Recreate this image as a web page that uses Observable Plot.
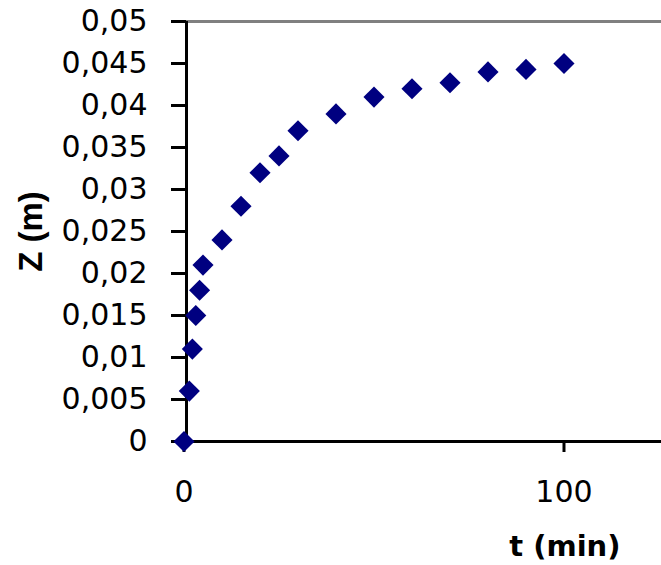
<!DOCTYPE html>
<html>
<head>
<meta charset="utf-8">
<script src="https://cdn.jsdelivr.net/npm/d3@7"></script>
<script src="https://cdn.jsdelivr.net/npm/@observablehq/plot@0.6"></script>
<style>
  html, body { margin: 0; padding: 0; background: #fff; }
  #chart svg { display: block; }
</style>
</head>
<body>
<div id="chart"></div>
<script>
// Data
const time = [0, 1.4, 2.2, 3.1, 4.1, 5, 10, 15, 20, 25, 30, 40, 50, 60, 70, 80, 90, 100];
const zValues = [0, 0.006, 0.011, 0.015, 0.018, 0.021, 0.024, 0.028, 0.032, 0.034, 0.037, 0.039, 0.041, 0.042, 0.0427, 0.044, 0.0443, 0.045];

const yTicks = [0, 0.005, 0.01, 0.015, 0.02, 0.025, 0.03, 0.035, 0.04, 0.045, 0.05];
const yTickLabels = ["0", "0,005", "0,01", "0,015", "0,02", "0,025", "0,03", "0,035", "0,04", "0,045", "0,05"];
const xTicks = [0, 100];
const xTickLabels = ["0", "100"];
const xTitle = "t (min)";
const yTitle = "Z (m)";

const data = time.map((t, i) => ({t, z: zValues[i]}));

const plot = Plot.plot({
  width: 661,
  height: 565,
  marginTop: 21,
  marginBottom: 124,
  marginLeft: 183.5,
  marginRight: 0,
  x: {domain: [0, 125.66]},
  y: {domain: [0, 0.05]},
  style: {
    fontFamily: "'DejaVu Sans', sans-serif",
    fontSize: "30px",
    color: "#000",
    background: "#fff",
    overflow: "visible"
  },
  marks: [
    // top border (gray)
    Plot.ruleY([0.05], {stroke: "#808080", strokeWidth: 3}),
    // axis lines
    Plot.ruleX([0], {stroke: "#000", strokeWidth: 3, dx: 2.5}),
    Plot.ruleY([0], {stroke: "#000", strokeWidth: 3}),
    Plot.axisY({
      ticks: yTicks,
      tickFormat: d => yTickLabels[yTicks.indexOf(d)],
      tickSize: 15,
      tickPadding: 24,
      dx: 2.5,
      stroke: "#000",
      strokeWidth: 3,
      strokeOpacity: 1,
      label: null,
      fill: "#000"
    }),
    Plot.axisX({
      ticks: xTicks,
      tickFormat: d => xTickLabels[xTicks.indexOf(d)],
      tickSize: 11,
      tickPadding: 28,
      stroke: "#000",
      strokeWidth: 3,
      strokeOpacity: 1,
      label: null,
      fill: "#000"
    }),
    Plot.dot(data, {x: "t", y: "z", symbol: "diamond2", r: 9.5, fill: "#000080", stroke: "none"}),
    Plot.text([xTitle], {
      text: d => d,
      frameAnchor: "bottom-right",
      textAnchor: "end",
      lineAnchor: "middle",
      dx: -41,
      dy: 105,
      fontSize: 29,
      fontWeight: "bold",
      fill: "#000"
    }),
    Plot.text([yTitle], {
      text: d => d,
      frameAnchor: "left",
      textAnchor: "middle",
      lineAnchor: "middle",
      rotate: -90,
      dx: -152.5,
      dy: 0,
      fontSize: 33,
      fontFamily: "'Liberation Sans', Arial, sans-serif",
      fontWeight: "bold",
      fill: "#000"
    })
  ]
});

document.getElementById("chart").appendChild(plot);
</script>
</body>
</html>
